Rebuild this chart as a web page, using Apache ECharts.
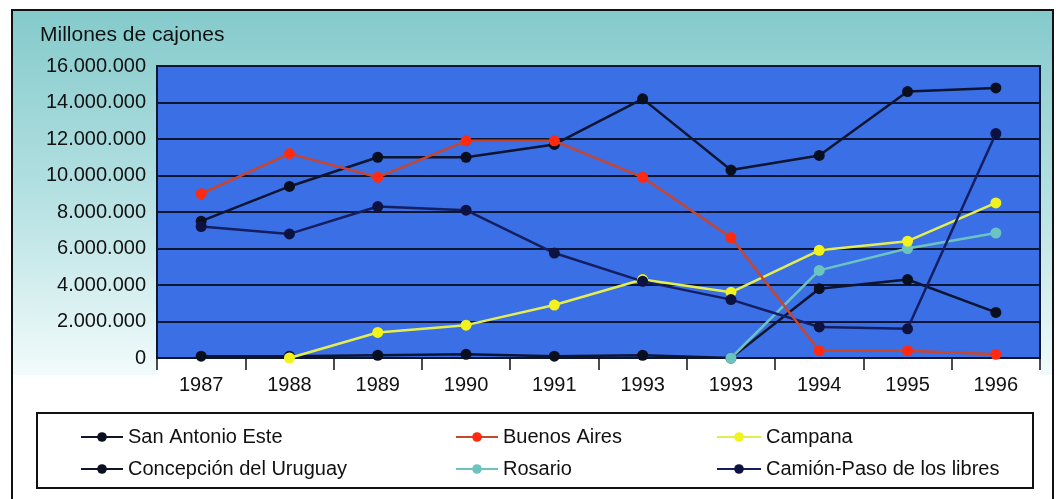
<!DOCTYPE html>
<html><head><meta charset="utf-8">
<script src="https://cdn.jsdelivr.net/npm/echarts@6/dist/echarts.min.js"></script>
<style>html,body{margin:0;padding:0;background:#fff}#c{width:1058px;height:499px}</style>
</head><body><div id="c"></div>
<script>
const categories = ['1987','1988','1989','1990','1991','1993','1993','1994','1995','1996'];
const sanAntonioEste = [7500000,9400000,11000000,11000000,11700000,14200000,10300000,11100000,14600000,14800000];
const buenosAires = [9000000,11200000,9900000,11900000,11900000,9900000,6600000,400000,400000,200000];
const campana = [null,0,1400000,1800000,2900000,4300000,3600000,5900000,6400000,8500000];
const concepcion = [100000,100000,150000,200000,100000,150000,0,3800000,4300000,2500000];
const rosario = [null,null,null,null,null,null,0,4800000,6000000,6850000];
const camion = [7200000,6800000,8300000,8100000,5750000,4200000,3200000,1700000,1600000,12300000];
const yTicks = {min:0, max:16000000, interval:2000000};

const chart = echarts.init(document.getElementById('c'));
const font = '"Liberation Sans", Arial, sans-serif';
function fmt(v){ return String(v).replace(/\B(?=(\d{3})+(?!\d))/g,'.'); }
function mk(name, data, line, mark, z){
  return {name, type:'line', data, symbol:'circle', symbolSize:11, z:z||2,
    lineStyle:{color:line, width:2.5}, itemStyle:{color:mark}, connectNulls:false};
}
const legText = {fontSize:20, fontFamily:font, color:'#111'};
chart.setOption({
  animation:false,
  backgroundColor:'#ffffff',
  graphic:[
    {type:'rect', shape:{x:12,y:10,width:1041,height:365}, z:-10,
     style:{fill:{type:'linear',x:0,y:0,x2:0,y2:1,colorStops:[{offset:0,color:'#84cacb'},{offset:0.5,color:'#b4e0e2'},{offset:1,color:'#f2fbfb'}]}}},
    {type:'rect', shape:{x:157,y:358,width:883,height:20}, z:-9, style:{fill:'#ffffff'}},
    {type:'rect', shape:{x:12,y:10,width:1041,height:520}, z:-8, style:{fill:'none',stroke:'#111',lineWidth:2}},
    {type:'rect', shape:{x:37,y:413,width:996,height:75}, z:-7, style:{fill:'#ffffff',stroke:'#111',lineWidth:2}},
    {type:'text', left:40, top:25, z:10, style:{text:'Millones de cajones', font:'21px '+font, fill:'#111'}}
  ],
  grid:{left:157, right:18, top:66, bottom:141, show:true, backgroundColor:'#3a6fe6', borderColor:'#0b1633', borderWidth:2},
  xAxis:{type:'category', data:categories, boundaryGap:true,
    axisLine:{lineStyle:{color:'#0b1633', width:2}},
    axisTick:{show:true, length:12, lineStyle:{color:'#111', width:1.5}},
    axisLabel:{color:'#111', fontSize:20, fontFamily:font, margin:17}},
  yAxis:{type:'value', min:yTicks.min, max:yTicks.max, interval:yTicks.interval,
    axisLine:{show:false}, axisTick:{show:false},
    splitLine:{lineStyle:{color:'#0b1633', width:2}},
    axisLabel:{color:'#111', fontSize:20, fontFamily:font, margin:11, formatter:fmt}},
  legend:[
    {orient:'vertical', left:80, top:427, padding:0, itemWidth:42, itemHeight:12, itemGap:12, textStyle:legText,
     data:['San Antonio Este','Concepción del Uruguay']},
    {orient:'vertical', left:455, top:427, padding:0, itemWidth:42, itemHeight:12, itemGap:12, textStyle:legText,
     data:['Buenos Aires','Rosario']},
    {orient:'vertical', left:716, top:427, padding:0, itemWidth:44, itemHeight:12, itemGap:12, textStyle:legText,
     data:['Campana','Camión-Paso de los libres']}
  ],
  series:[
    mk('San Antonio Este', sanAntonioEste, '#0d1530', '#0a0f20', 3),
    mk('Buenos Aires', buenosAires, '#c8452e', '#ff2a10', 4),
    mk('Campana', campana, '#e4ee50', '#f2f21c', 3),
    mk('Concepción del Uruguay', concepcion, '#0d1530', '#0a0f20', 2),
    mk('Rosario', rosario, '#6cc4c0', '#6cc4c0', 2),
    mk('Camión-Paso de los libres', camion, '#141e60', '#0d1240', 3)
  ]
});
</script></body></html>
